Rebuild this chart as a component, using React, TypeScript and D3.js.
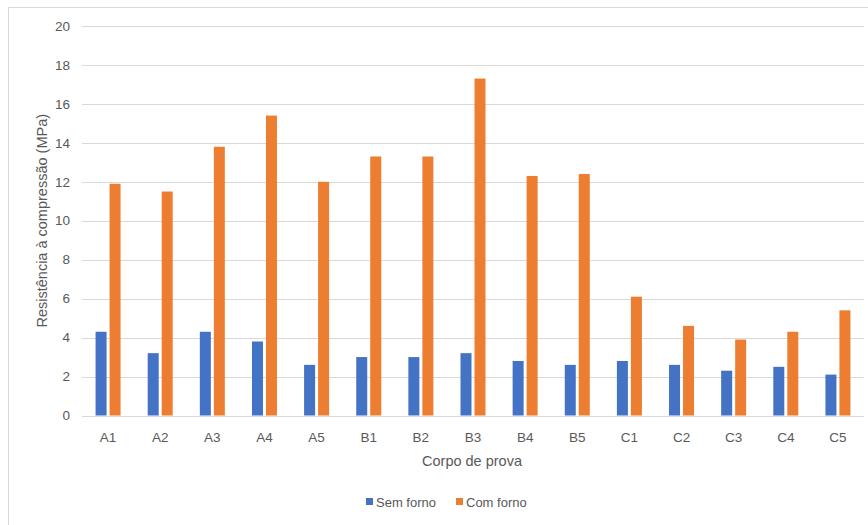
import React from "react";
import * as d3 from "d3";

const categories = ["A1","A2","A3","A4","A5","B1","B2","B3","B4","B5","C1","C2","C3","C4","C5"];
const semForno = [4.3,3.2,4.3,3.8,2.6,3.0,3.0,3.2,2.8,2.6,2.8,2.6,2.3,2.5,2.1];
const comForno = [11.9,11.5,13.8,15.4,12.0,13.3,13.3,17.3,12.3,12.4,6.1,4.6,3.9,4.3,5.4];
const yTicks = [0,2,4,6,8,10,12,14,16,18,20];
const seriesNames = ["Sem forno","Com forno"];
const colors = ["#4472C4","#ED7D31"];

const W = 868, H = 525;
const font = "'Liberation Sans', Arial, sans-serif";

export default function App() {
  const x = d3.scaleBand<string>().domain(categories).range([82, 864]);
  const y = d3.scaleLinear().domain([0, 20]).range([415.5, 26]);
  const barW = 11;
  const gap = 3;
  const series = [semForno, comForno];

  return (
    <div style={{ position: "fixed", left: 0, top: 0 }}>
      <svg width={W} height={H} style={{ display: "block", background: "#fff" }}>
        <rect x={8.5} y={7.5} width={W + 10} height={H} fill="#fff" stroke="#d9d9d9" />
        {yTicks.map(t => (
          <g key={t}>
            <line x1={82} x2={864} y1={Math.round(y(t)) + 0.5} y2={Math.round(y(t)) + 0.5} stroke="#d9d9d9" strokeWidth={1} />
            <text x={70} y={y(t)} dy="0.35em" textAnchor="end" fontFamily={font} fontSize={13.5} fill="#595959">{t}</text>
          </g>
        ))}
        {categories.map((c, i) => {
          const cx = x(c)! + x.bandwidth() / 2;
          return (
            <g key={c}>
              {series.map((s, k) => {
                const bx = k === 0 ? cx - gap / 2 - barW : cx + gap / 2;
                return (
                  <rect key={k} x={bx} y={y(s[i])} width={barW} height={y(0) - y(s[i])} fill={colors[k]} />
                );
              })}
              <text x={cx} y={437} dy="0.35em" textAnchor="middle" fontFamily={font} fontSize={13.5} fill="#595959">{c}</text>
            </g>
          );
        })}
        <text x={472} y={461} dy="0.35em" textAnchor="middle" fontFamily={font} fontSize={14.5} fill="#595959">Corpo de prova</text>
        <text transform={`translate(42,${y(10)}) rotate(-90)`} dy="0.35em" textAnchor="middle" fontFamily={font} fontSize={14.5} fill="#595959">Resistência à compressão (MPa)</text>
        {seriesNames.map((n, k) => {
          const lx = k === 0 ? 366 : 456;
          return (
            <g key={n}>
              <rect x={lx} y={498} width={7} height={7} fill={colors[k]} />
              <text x={lx + 10} y={502} dy="0.35em" fontFamily={font} fontSize={13} fill="#595959">{n}</text>
            </g>
          );
        })}
      </svg>
    </div>
  );
}
